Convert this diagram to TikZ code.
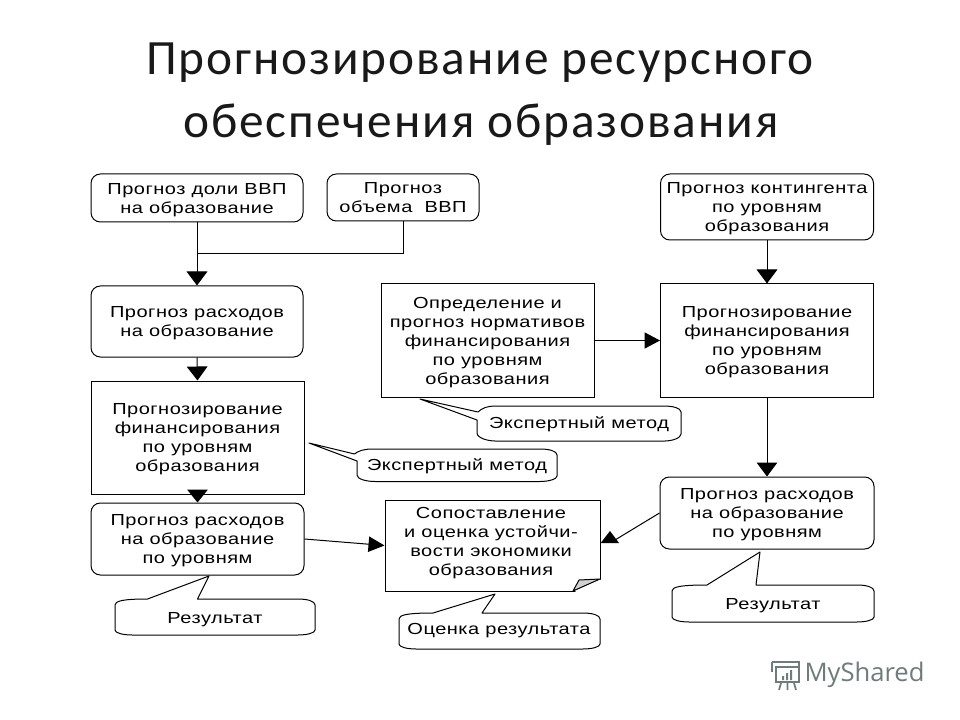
\documentclass[tikz,border=0pt]{standalone}
\usepackage{fontspec}
\usetikzlibrary{arrows.meta}
\setmainfont{Liberation Sans}
\newfontfamily\titlefont[LetterSpace=3.8]{Carlito}
\newfontfamily\diagfont[FakeStretch=1.25,LetterSpace=3.2]{Liberation Sans}
\newfontfamily\markfont{Open Sans}
\definecolor{wmgray}{HTML}{6F7C7C}
\tikzset{
  x=0.75pt,y=-0.75pt,
  line/.style={line width=0.75pt,black},
  roundbox/.style={line,draw,rounded corners=7pt,inner sep=0pt,align=center,text depth=0pt,font=\diagfont\fontsize{12}{14.25}\selectfont},
  sharpbox/.style={roundbox,rounded corners=0pt},
  calltext/.style={inner sep=0pt,text depth=0pt,font=\diagfont\fontsize{12}{14.25}\selectfont},
  callout/.style={line,draw,fill=white,line join=round},
  head/.style={line,-{Triangle[length=10.5pt,width=15.5pt]}},
  titletext/.style={inner sep=0pt,text=black!90,font=\titlefont\fontsize{37}{46}\selectfont},
}
\newcommand{\bx}[6]{\node[#1,minimum width=#4*0.75pt,minimum height=#5*0.75pt] (#6) at (#2,#3)}
\begin{document}
\begin{tikzpicture}
\useasboundingbox (0,0) rectangle (960,720);
\fill[white] (0,0) rectangle (960,720);
\node[titletext] (t1) at (480,63) {Прогнозирование ресурсного};
\node[titletext] (t2) at (481,125) {обеспечения образования};

\bx{roundbox}{197}{198}{212}{48}{A} {Прогноз доли ВВП\\на образование};
\bx{roundbox}{403}{197.5}{152}{47}{B} {Прогноз\\объема\ \ ВВП};
\bx{roundbox}{197}{321.5}{212}{71}{C} {Прогноз расходов\\на образование};
\bx{sharpbox}{197.5}{437.5}{213}{113}{D} {Прогнозирование\\финансирования\\по уровням\\образования};
\bx{roundbox}{197.5}{539}{213}{72}{E} {Прогноз расходов\\на образование\\по уровням};
\bx{sharpbox}{492.5}{545.5}{215}{91}{F} {};
\node[calltext,align=center] (Ftext) at (491,541.5) {Сопоставление\\и оценка устойчи-\\вости экономики\\образования};
\bx{roundbox}{767}{513}{214}{72}{G} {Прогноз расходов\\на образование\\по уровням};
\bx{roundbox}{767}{207}{213}{66}{H} {Прогноз контингента\\по уровням\\образования};
\bx{sharpbox}{767}{340.5}{213}{113}{I} {Прогнозирование\\финансирования\\по уровням\\образования};
\bx{sharpbox}{487.5}{340.5}{213}{113}{J} {Определение и\\прогноз нормативов\\финансирования\\по уровням\\образования};

% page fold of F
\fill[white] (572.5,593) -- (603,593) -- (603,578.6) -- cycle;
\filldraw[line,fill=black!18,line join=round] (573,591) -- (579,580) -- (600,579) -- cycle;

% connectors
\coordinate (j) at (197,254);
\draw[head] (A.south) -- (C.north);
\draw[line] (B.south) |- (j);
\draw[head] (C.south) -- (D.north);
\draw[head,-{Triangle[length=9.75pt,width=15.5pt]}] ([yshift=3pt]D.south) -- (E.north);
\draw[head,-{Triangle[length=12pt,width=11.5pt]}] (E.east) -- (F.west);
\draw[head,-{Triangle[length=11.5pt,width=12pt]}] (J.east) -- (I.west);
\draw[head] (H.south) -- (I.north);
\draw[head] (I.south) -- (G.north);
\coordinate (gf) at (615,540);
\draw[line] (G.west) -- (gf);
\fill (610,531) -- (600.7,543) -- (619,543) -- cycle;

% callouts
\draw[callout] (420,399) -- (478,412) .. controls (482,408) and (488,406) .. (495,406) -- (665,406) .. controls (672,406) and (681,408) .. (681,412) -- (681,434) .. controls (681,438) and (672,441) .. (665,441) -- (495,441) .. controls (488,441) and (477,438) .. (477,433) -- (477,420) -- cycle;
\node[calltext] (c1) at (579,423) {Экспертный метод};

\draw[callout] (309,443) -- (354.5,454) .. controls (358,451) and (364,449) .. (372,449) -- (540,449) .. controls (549,449) and (557,451) .. (557,455) -- (557,476) .. controls (557,479) and (549,481.5) .. (540,481.5) -- (375,481.5) .. controls (366,481.5) and (357,479) .. (357,475) -- (357,461) -- cycle;
\node[calltext] (c2) at (457,465) {Экспертный метод};

\draw[callout] (209,576) -- (197.5,599) -- (298,599) .. controls (307,599) and (315,601) .. (315,605) -- (315,630) .. controls (315,633) and (307,635) .. (298,635) -- (132,635) .. controls (123,635) and (115,633) .. (115,630) -- (115,605) .. controls (115,601) and (123,599) .. (147.5,599) -- cycle;
\node[calltext] (c3) at (215,618) {Результат};

\draw[callout] (495,594) -- (482,613) -- (583,613) .. controls (592,613) and (600,615) .. (600,619) -- (600,644) .. controls (600,647) and (592,649) .. (583,649) -- (416,649) .. controls (407,649) and (399,647) .. (399,644) -- (399,619) .. controls (399,615) and (407,613) .. (433,613) -- cycle;
\node[calltext] (c4) at (499,629) {Оценка результата};

\draw[callout] (760,552) -- (756,585) -- (857,585) .. controls (866,585) and (874,587) .. (874,591) -- (874,617) .. controls (874,620) and (866,622) .. (857,622) -- (689,622) .. controls (680,622) and (672,620) .. (672,617) -- (672,591) .. controls (672,587) and (680,585) .. (707,585) -- cycle;
\node[calltext] (c5) at (773,604) {Результат};

% watermark
\begin{scope}[wmgray,line width=1.3pt]
\draw (772,662) -- (799,662) -- (799,667);
\draw (772,662) -- (772,672);
\draw (776,667) rectangle (799,682);
\fill (782,676) rectangle (784,680) (786,673) rectangle (788,680) (790,670) rectangle (792,680);
\draw (781,683) -- (779,690) (787.5,683) -- (787.5,690) (794,683) -- (796,690);
\end{scope}
\node[inner sep=0pt,text=wmgray,font=\markfont\fontsize{19.2}{24}\selectfont] (wm) at (864.5,675) {MyShared};
\end{tikzpicture}
\end{document}
